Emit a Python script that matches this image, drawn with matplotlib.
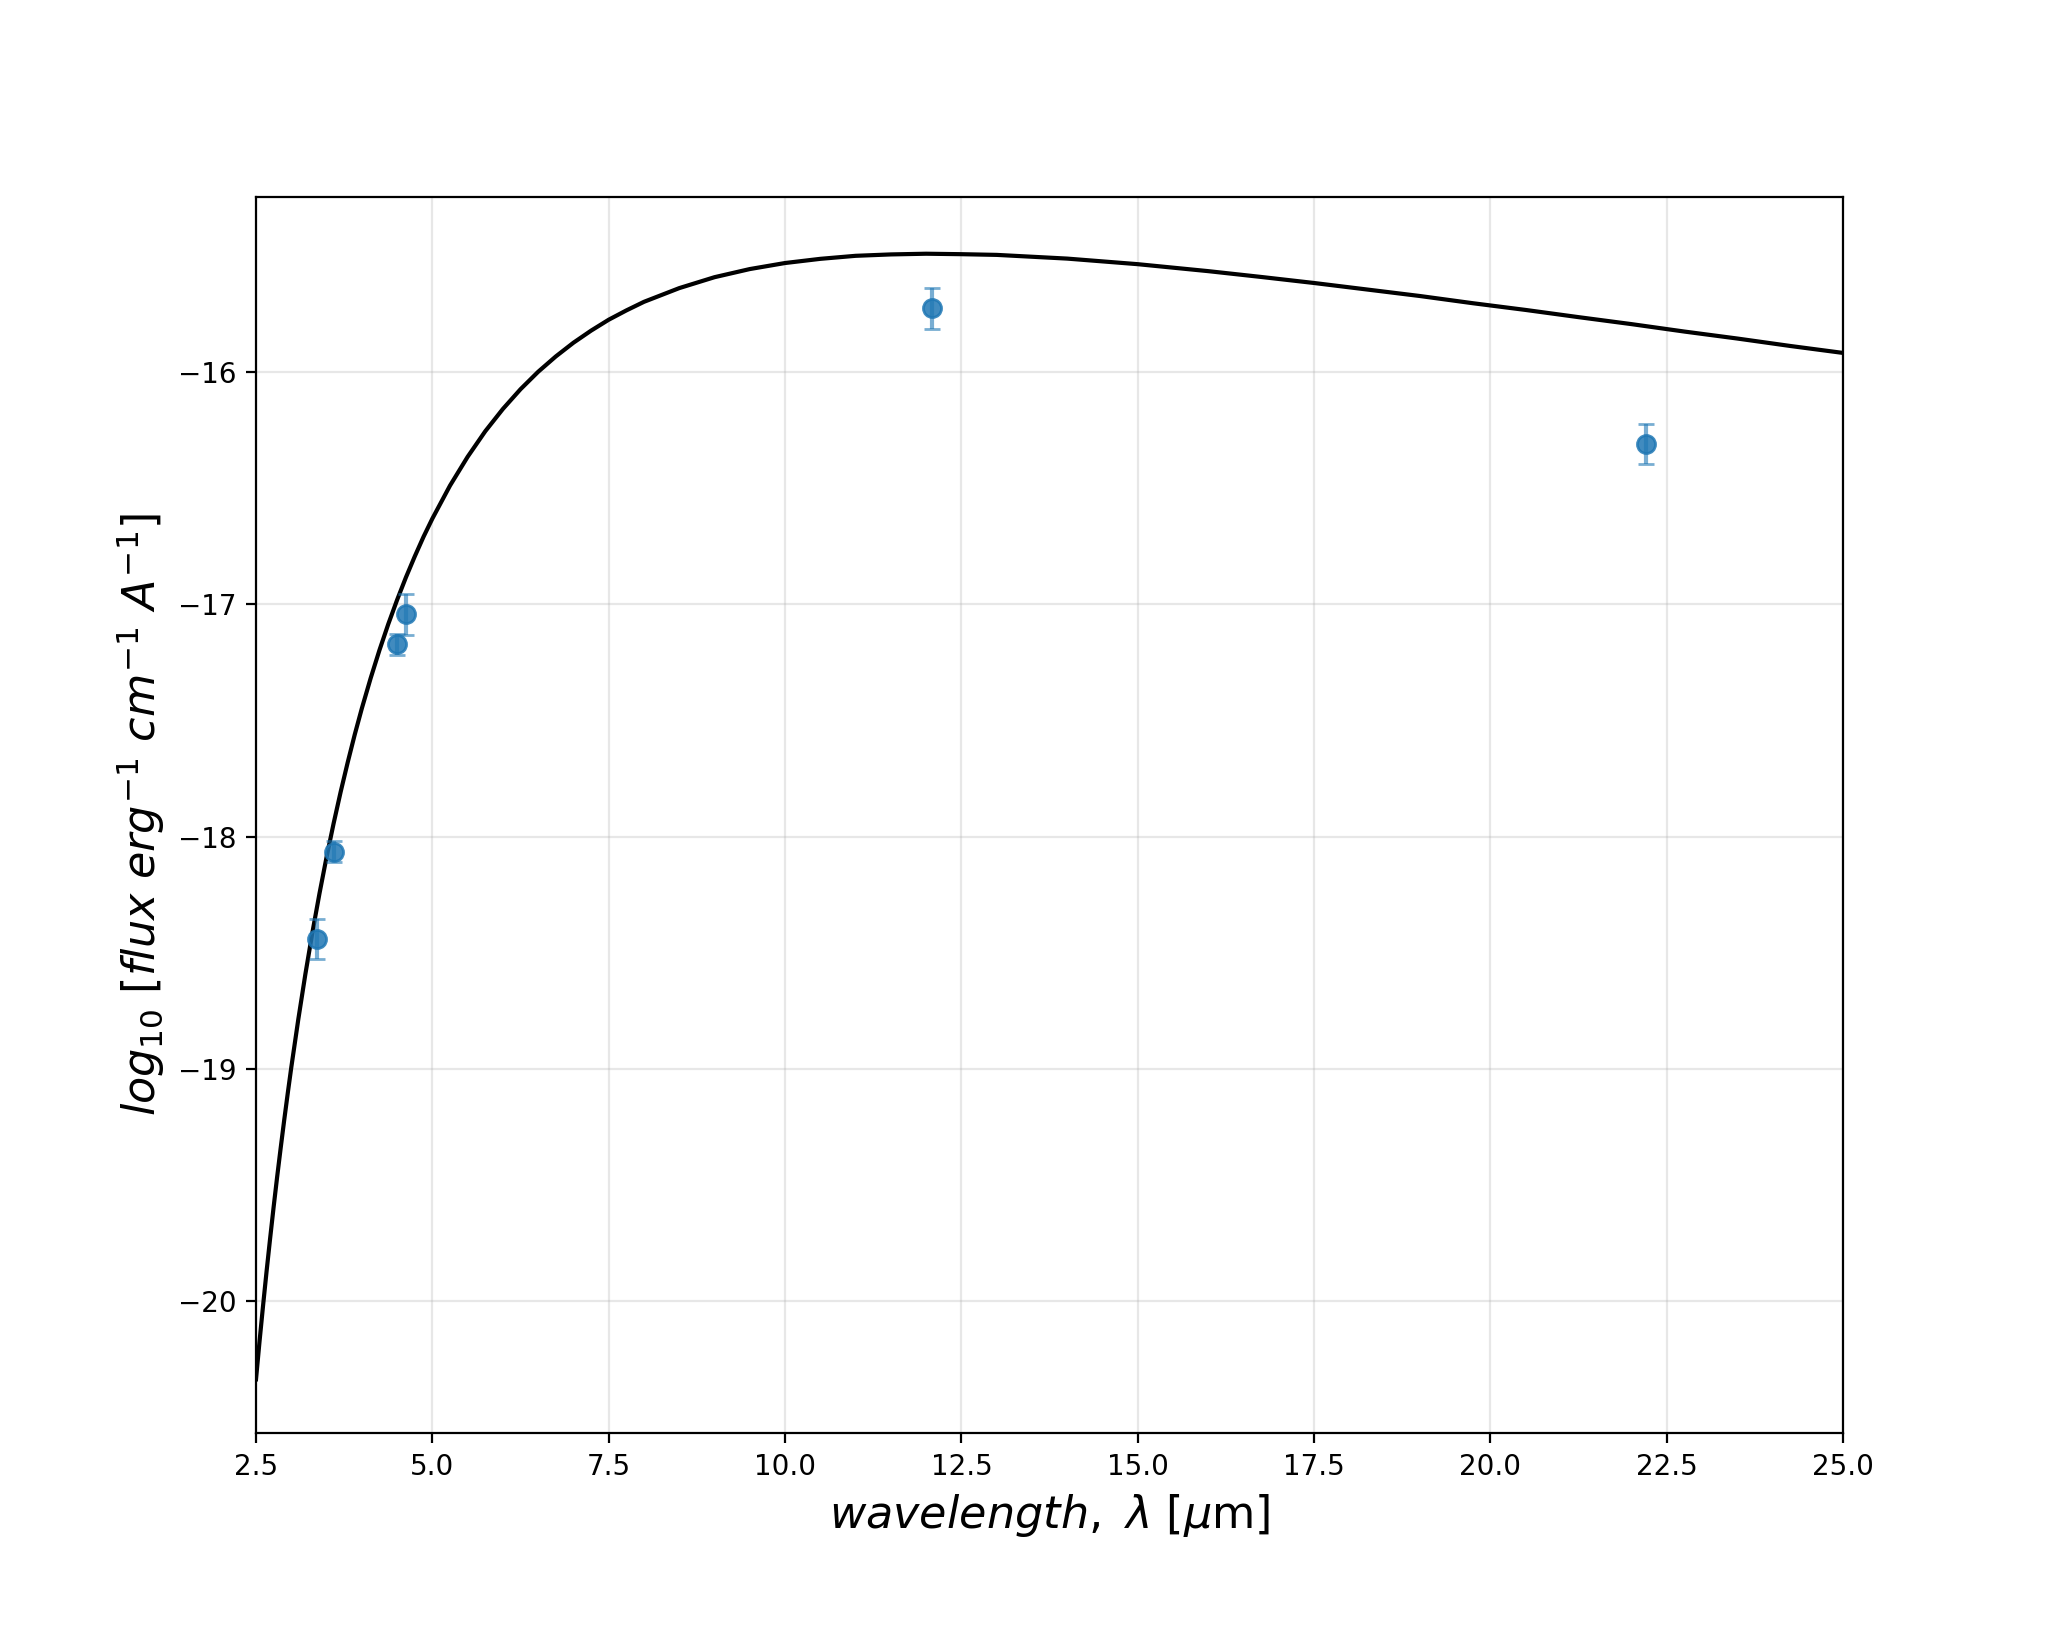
import numpy as np
import matplotlib
matplotlib.use('Agg')
import matplotlib.pyplot as plt

# photometry points (wavelength in micron, log10 flux, error)
wave_obs = [3.37, 3.60, 4.50, 4.62, 12.08, 22.20]
flux_obs = [-18.438, -18.065, -17.172, -17.043, -15.726, -16.309]
flux_err = [0.086, 0.045, 0.044, 0.087, 0.087, 0.086]

# model curve
wave_model = [2.5, 2.55, 2.6, 2.65, 2.7, 2.75, 2.8, 2.85, 2.9, 2.95,
              3.0, 3.1, 3.2, 3.3, 3.4, 3.5, 3.6, 3.7, 3.8, 3.9,
              4.0, 4.125, 4.25, 4.375, 4.5, 4.625, 4.75, 4.875, 5.0, 5.25,
              5.5, 5.75, 6.0, 6.25, 6.5, 6.75, 7.0, 7.25, 7.5, 7.75,
              8.0, 8.5, 9.0, 9.5, 10.0, 10.5, 11.0, 11.5, 12.0, 12.5,
              13.0, 13.5, 14.0, 14.5, 15.0, 15.5, 16.0, 16.75, 17.5, 18.25,
              19.0, 19.75, 20.5, 21.25, 22.0, 22.75, 23.5, 24.25, 25.0]
flux_model = [-20.335, -20.172, -20.018, -19.870, -19.729, -19.593, -19.463,
              -19.339, -19.219, -19.104, -18.993, -18.785, -18.591, -18.411,
              -18.244, -18.088, -17.943, -17.807, -17.680, -17.560, -17.448,
              -17.318, -17.197, -17.085, -16.981, -16.884, -16.794, -16.709,
              -16.631, -16.489, -16.365, -16.255, -16.159, -16.074, -15.999,
              -15.933, -15.874, -15.822, -15.775, -15.735, -15.698, -15.639,
              -15.592, -15.557, -15.531, -15.513, -15.500, -15.494, -15.491,
              -15.493, -15.496, -15.504, -15.512, -15.524, -15.536, -15.551,
              -15.566, -15.591, -15.617, -15.645, -15.673, -15.704, -15.733,
              -15.764, -15.794, -15.826, -15.856, -15.888, -15.918]

fig, ax = plt.subplots(figsize=(10.24, 8.19), dpi=200)
fig.subplots_adjust(left=0.125, right=0.9, bottom=0.125, top=0.88)

ax.plot(wave_model, flux_model, color='k', lw=1.5)
ax.errorbar(wave_obs, flux_obs, yerr=flux_err, fmt='none', ecolor='C0',
            alpha=0.6, capsize=3, elinewidth=1.5)
ax.plot(wave_obs, flux_obs, 'o', color='C0', alpha=0.85, ms=6.5)

ax.set_xlim(2.5, 25)
ax.set_ylim(-20.567, -15.245)
ax.grid(alpha=0.3)

ax.set_xlabel(r'$wavelength,\ \lambda$ [$\mu$m]', fontsize=16)
ax.set_ylabel(r'$log_{10}$ [$flux\ erg^{-1}\ cm^{-1}\ A^{-1}$]', fontsize=16)

fig.savefig('out.png', dpi=200)
